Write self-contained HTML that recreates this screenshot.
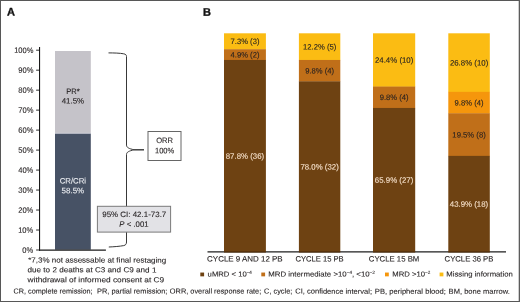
<!DOCTYPE html>
<html lang="en"><head><meta charset="utf-8"><title>Figure</title>
<style>html,body{margin:0;padding:0;background:#fff;}body{width:520px;height:302px;overflow:hidden;}svg{display:block;will-change:transform;}text{font-family:"Liberation Sans",sans-serif;fill:#231f20;stroke:#231f20;stroke-width:.1px;}.t{font-size:7.8px;}.s{font-size:7.2px;}.f{font-size:7.35px;}.w{fill:#f7e2cc;stroke:#f7e2cc;}.h{font-size:11px;font-weight:bold;fill:#111;stroke:#111;stroke-width:.35px;}</style></head><body>
<svg width="520" height="302" viewBox="0 0 520 302">
<rect x="0" y="0" width="520" height="302" fill="#fff"/>
<rect x="0.5" y="0.5" width="519" height="301" fill="none" stroke="#575757" stroke-width="1"/>
<rect x="518.7" y="0" width="1.3" height="302" fill="#5c5c5c"/>
<rect x="55" y="51.0" width="35.8" height="82.46" fill="#c5c3c9"/>
<rect x="55" y="133.46" width="35.8" height="116.24" fill="#475265"/>
<rect x="55" y="132.86" width="35.8" height="0.6" fill="#d6d8e2"/>
<path d="M39.55 47 V250.8" fill="none" stroke="#1a1a1a" stroke-width="1.1"/>
<path d="M39 250.2 H105.9" fill="none" stroke="#1a1a1a" stroke-width="1.25"/>
<path d="M36.1 250.00 H39.5" stroke="#1a1a1a" stroke-width="0.9"/>
<path d="M36.1 230.02 H39.5" stroke="#1a1a1a" stroke-width="0.9"/>
<path d="M36.1 210.04 H39.5" stroke="#1a1a1a" stroke-width="0.9"/>
<path d="M36.1 190.06 H39.5" stroke="#1a1a1a" stroke-width="0.9"/>
<path d="M36.1 170.08 H39.5" stroke="#1a1a1a" stroke-width="0.9"/>
<path d="M36.1 150.10 H39.5" stroke="#1a1a1a" stroke-width="0.9"/>
<path d="M36.1 130.12 H39.5" stroke="#1a1a1a" stroke-width="0.9"/>
<path d="M36.1 110.14 H39.5" stroke="#1a1a1a" stroke-width="0.9"/>
<path d="M36.1 90.16 H39.5" stroke="#1a1a1a" stroke-width="0.9"/>
<path d="M36.1 70.18 H39.5" stroke="#1a1a1a" stroke-width="0.9"/>
<path d="M36.1 50.20 H39.5" stroke="#1a1a1a" stroke-width="0.9"/>
<path d="M108.5 52.9 C114 52.9 120 53.1 123.7 53.8 C125.7 54.2 126.5 55 126.5 56.5 V145 C126.5 147.6 129 148.6 134 149.8 H144 H134 C129 151 126.5 152 126.5 154.6 V242 C126.5 244 125.7 245.2 123.7 245.6 C120 246.3 114 246.8 108.8 247" fill="none" stroke="#383838" stroke-width="1"/>
<rect x="148" y="131.5" width="33" height="29" fill="#fff" stroke="#666" stroke-width="1"/>
<rect x="97.4" y="206.3" width="73.2" height="25.8" fill="#e2e2e6" stroke="#7a7a7a" stroke-width="1"/>
<path d="M207.5 251.8 H506" stroke="#1f1f1f" stroke-width="1.3"/>
<rect x="224" y="33.30" width="41.90" height="16.25" fill="#fbbc13"/>
<rect x="224" y="49.25" width="41.90" height="11.01" fill="#c06f19"/>
<rect x="224" y="59.96" width="41.90" height="192.49" fill="#6e4212"/>
<rect x="224" y="251.15" width="41.90" height="1.3" fill="#2a1500" fill-opacity="0.35"/>
<rect x="298.9" y="33.30" width="41.40" height="26.96" fill="#fbbc13"/>
<rect x="298.9" y="59.96" width="41.40" height="21.71" fill="#c06f19"/>
<rect x="298.9" y="81.37" width="41.40" height="171.08" fill="#6e4212"/>
<rect x="298.9" y="251.15" width="41.40" height="1.3" fill="#2a1500" fill-opacity="0.35"/>
<rect x="373" y="33.30" width="42.20" height="53.56" fill="#fbbc13"/>
<rect x="373" y="86.56" width="42.20" height="21.69" fill="#c06f19"/>
<rect x="373" y="107.95" width="42.20" height="144.50" fill="#6e4212"/>
<rect x="373" y="251.15" width="42.20" height="1.3" fill="#2a1500" fill-opacity="0.35"/>
<rect x="448.3" y="33.30" width="41.50" height="58.86" fill="#fbbc13"/>
<rect x="448.3" y="91.86" width="41.50" height="21.71" fill="#f5960c"/>
<rect x="448.3" y="113.27" width="41.50" height="42.91" fill="#c06f19"/>
<rect x="448.3" y="155.88" width="41.50" height="96.57" fill="#6e4212"/>
<rect x="448.3" y="251.15" width="41.50" height="1.3" fill="#2a1500" fill-opacity="0.35"/>
<rect x="200.3" y="272.55" width="3.8" height="3.8" fill="#6e4212"/>
<rect x="261.3" y="272.55" width="3.8" height="3.8" fill="#c06f19"/>
<rect x="385" y="272.55" width="3.8" height="3.8" fill="#f5960c"/>
<rect x="439.6" y="272.55" width="3.8" height="3.8" fill="#fbbc13"/>
<g transform="rotate(0.03 260 151)">
<text class="h" x="6.95" y="15.75">A</text>
<text class="h" x="202.90" y="15.75">B</text>
<text class="t" x="33.40" y="252.80" text-anchor="end" textLength="11.0" lengthAdjust="spacingAndGlyphs">0%</text>
<text class="t" x="33.40" y="232.82" text-anchor="end" textLength="15.2" lengthAdjust="spacingAndGlyphs">10%</text>
<text class="t" x="33.40" y="212.84" text-anchor="end" textLength="15.2" lengthAdjust="spacingAndGlyphs">20%</text>
<text class="t" x="33.40" y="192.86" text-anchor="end" textLength="15.2" lengthAdjust="spacingAndGlyphs">30%</text>
<text class="t" x="33.40" y="172.88" text-anchor="end" textLength="15.2" lengthAdjust="spacingAndGlyphs">40%</text>
<text class="t" x="33.40" y="152.90" text-anchor="end" textLength="15.2" lengthAdjust="spacingAndGlyphs">50%</text>
<text class="t" x="33.40" y="132.92" text-anchor="end" textLength="15.2" lengthAdjust="spacingAndGlyphs">60%</text>
<text class="t" x="33.40" y="112.94" text-anchor="end" textLength="15.2" lengthAdjust="spacingAndGlyphs">70%</text>
<text class="t" x="33.40" y="92.96" text-anchor="end" textLength="15.2" lengthAdjust="spacingAndGlyphs">80%</text>
<text class="t" x="33.40" y="72.98" text-anchor="end" textLength="15.2" lengthAdjust="spacingAndGlyphs">90%</text>
<text class="t" x="33.40" y="53.00" text-anchor="end" textLength="19.3" lengthAdjust="spacingAndGlyphs">100%</text>
<text class="t" x="72.90" y="94.00" text-anchor="middle" textLength="13.4" lengthAdjust="spacingAndGlyphs">PR*</text>
<text class="t" x="72.90" y="103.70" text-anchor="middle" textLength="22.5" lengthAdjust="spacingAndGlyphs">41.5%</text>
<text class="t" x="72.90" y="183.50" text-anchor="middle" textLength="26.3" lengthAdjust="spacingAndGlyphs" style="fill:#eef0f4;stroke:#eef0f4">CR/CRi</text>
<text class="t" x="72.90" y="193.40" text-anchor="middle" textLength="22.5" lengthAdjust="spacingAndGlyphs" style="fill:#eef0f4;stroke:#eef0f4">58.5%</text>
<text class="t" x="164.60" y="143.10" text-anchor="middle" textLength="16.8" lengthAdjust="spacingAndGlyphs">ORR</text>
<text class="t" x="164.60" y="153.40" text-anchor="middle" textLength="19.3" lengthAdjust="spacingAndGlyphs">100%</text>
<text class="t" x="134.30" y="217.10" text-anchor="middle" textLength="64.0" lengthAdjust="spacingAndGlyphs">95% CI: 42.1-73.7</text>
<text class="t" x="134.00" y="226.90" text-anchor="middle" textLength="29.2" lengthAdjust="spacingAndGlyphs"><tspan font-style="italic">P</tspan> &lt; .001</text>
<text class="f" x="28.30" y="262.70" textLength="138.0" lengthAdjust="spacingAndGlyphs">*7,3% not assessable at final restaging</text>
<text class="f" x="27.60" y="272.45" textLength="128.9" lengthAdjust="spacingAndGlyphs">due to 2 deaths at C3 and C9 and 1</text>
<text class="f" x="27.70" y="282.30" textLength="136.5" lengthAdjust="spacingAndGlyphs">withdrawal of informed consent at C9</text>
<text class="t" x="244.95" y="44.08" text-anchor="middle" textLength="28.9" lengthAdjust="spacingAndGlyphs">7.3% (3)</text>
<text class="t" x="244.95" y="57.40" text-anchor="middle" textLength="28.9" lengthAdjust="spacingAndGlyphs">4.9% (2)</text>
<text class="t w" x="244.95" y="158.68" text-anchor="middle" textLength="38.4" lengthAdjust="spacingAndGlyphs">87.8% (36)</text>
<text class="t" x="244.95" y="261.50" text-anchor="middle" textLength="75.6" lengthAdjust="spacingAndGlyphs">CYCLE 9 AND 12 PB</text>
<text class="t" x="319.60" y="49.43" text-anchor="middle" textLength="33.4" lengthAdjust="spacingAndGlyphs">12.2% (5)</text>
<text class="t" x="319.60" y="73.46" text-anchor="middle" textLength="28.9" lengthAdjust="spacingAndGlyphs">9.8% (4)</text>
<text class="t w" x="319.60" y="169.38" text-anchor="middle" textLength="38.4" lengthAdjust="spacingAndGlyphs">78.0% (32)</text>
<text class="t" x="319.60" y="261.50" text-anchor="middle" textLength="48.3" lengthAdjust="spacingAndGlyphs">CYCLE 15 PB</text>
<text class="t" x="394.10" y="62.73" text-anchor="middle" textLength="38.4" lengthAdjust="spacingAndGlyphs">24.4% (10)</text>
<text class="t" x="394.10" y="100.06" text-anchor="middle" textLength="28.9" lengthAdjust="spacingAndGlyphs">9.8% (4)</text>
<text class="t w" x="394.10" y="182.68" text-anchor="middle" textLength="38.4" lengthAdjust="spacingAndGlyphs">65.9% (27)</text>
<text class="t" x="394.10" y="261.50" text-anchor="middle" textLength="50.5" lengthAdjust="spacingAndGlyphs">CYCLE 15 BM</text>
<text class="t" x="469.05" y="65.38" text-anchor="middle" textLength="38.4" lengthAdjust="spacingAndGlyphs">26.8% (10)</text>
<text class="t" x="469.05" y="105.36" text-anchor="middle" textLength="28.9" lengthAdjust="spacingAndGlyphs">9.8% (4)</text>
<text class="t" x="469.05" y="137.37" text-anchor="middle" textLength="33.4" lengthAdjust="spacingAndGlyphs">19.5% (8)</text>
<text class="t w" x="469.05" y="206.64" text-anchor="middle" textLength="38.4" lengthAdjust="spacingAndGlyphs">43.9% (18)</text>
<text class="t" x="469.05" y="261.50" text-anchor="middle" textLength="48.8" lengthAdjust="spacingAndGlyphs">CYCLE 36 PB</text>
<text class="s" x="207.70" y="276.45" textLength="44.3" lengthAdjust="spacingAndGlyphs">uMRD &lt; 10<tspan font-size="4.3" dy="-2.7">−4</tspan></text>
<text class="s" x="268.30" y="276.45" textLength="106.7" lengthAdjust="spacingAndGlyphs">MRD intermediate &gt;10<tspan font-size="4.3" dy="-2.7">−4</tspan><tspan dy="2.7">, &lt;10</tspan><tspan font-size="4.3" dy="-2.7">−2</tspan></text>
<text class="s" x="392.30" y="276.45" textLength="38.0" lengthAdjust="spacingAndGlyphs">MRD &gt;10<tspan font-size="4.3" dy="-2.7">−2</tspan></text>
<text class="s" x="446.40" y="276.45" textLength="66.5" lengthAdjust="spacingAndGlyphs">Missing information</text>
<text class="s" x="13.20" y="293.60"><tspan x="13.70" textLength="79.0" lengthAdjust="spacingAndGlyphs">CR, complete remission;</tspan> <tspan x="97.10" textLength="70.4" lengthAdjust="spacingAndGlyphs">PR, partial remission;</tspan> <tspan x="169.90" textLength="91.4" lengthAdjust="spacingAndGlyphs">ORR, overall response rate;</tspan> <tspan x="264.20" textLength="28.2" lengthAdjust="spacingAndGlyphs">C, cycle;</tspan> <tspan x="295.30" textLength="76.8" lengthAdjust="spacingAndGlyphs">CI, confidence interval;</tspan> <tspan x="374.90" textLength="71.1" lengthAdjust="spacingAndGlyphs">PB, peripheral blood;</tspan> <tspan x="448.70" textLength="61.3" lengthAdjust="spacingAndGlyphs">BM, bone marrow.</tspan></text>
</g>
</svg></body></html>
